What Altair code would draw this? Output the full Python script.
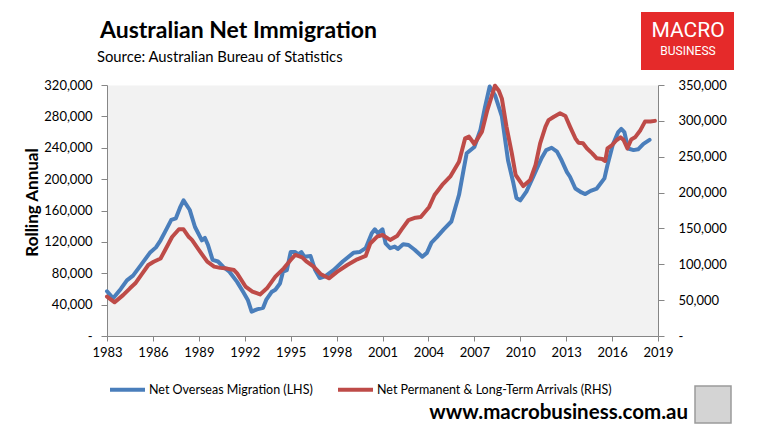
import altair as alt
import pandas as pd

# ---------------- data ----------------
nom_years = [1983.0, 1983.4, 1983.9, 1984.3, 1984.7, 1985.2, 1985.8, 1986.2, 1986.5, 1986.8,
             1987.2, 1987.5, 1987.8, 1988.0, 1988.4, 1988.75, 1989.2, 1989.4, 1989.6, 1989.9,
             1990.25, 1990.6, 1991.0, 1991.5, 1991.9, 1992.2, 1992.45, 1992.8, 1993.2, 1993.4,
             1993.75, 1994.0, 1994.3, 1994.5, 1994.75, 1995.0, 1995.3, 1995.5, 1995.7, 1995.9,
             1996.3, 1996.6, 1996.9, 1997.25, 1997.8, 1998.4, 1999.1, 1999.5, 1999.9, 2000.3,
             2000.5, 2000.7, 2001.0, 2001.2, 2001.5, 2001.8, 2002.0, 2002.35, 2002.7, 2003.1,
             2003.6, 2003.9, 2004.2, 2004.55, 2005.0, 2005.5, 2006.0, 2006.3, 2006.5, 2007.0,
             2007.4, 2007.7, 2008.0, 2008.35, 2008.8, 2009.2, 2009.55, 2009.75, 2010.0, 2010.4,
             2010.85, 2011.4, 2011.7, 2012.05, 2012.4, 2012.7, 2013.05, 2013.25, 2013.6, 2014.0,
             2014.25, 2014.6, 2015.0, 2015.5, 2015.7, 2016.05, 2016.4, 2016.6, 2016.8, 2017.05,
             2017.4, 2017.7, 2018.05, 2018.45]
nom_values = [57, 48, 60, 71, 77, 90, 106, 113, 122, 133,
              148, 150, 165, 173, 161, 139, 122, 125, 116, 97,
              95, 88, 82, 69, 56, 46, 31, 34, 36, 46,
              56, 59, 67, 82, 84, 107, 107, 104, 107, 101,
              102, 84, 74, 76, 84, 95, 106, 107, 112, 131,
              136, 131, 136, 118, 112, 114, 111, 117, 116, 110,
              101, 106, 119, 126, 136, 146, 180, 212, 233, 241,
              263, 292, 318, 307, 280, 224, 195, 176, 173, 184,
              203, 227, 237, 240, 235, 224, 209, 203, 188, 183,
              181, 185, 188, 201, 218, 244, 260, 264, 260, 239,
              237, 238, 245, 250]  # thousands

npl_years = [1983.0, 1983.5, 1984.05, 1984.5, 1984.85, 1985.3, 1985.7, 1986.05, 1986.5, 1986.8,
             1987.25, 1987.7, 1988.0, 1988.35, 1988.55, 1989.0, 1989.55, 1990.0, 1990.4, 1990.85,
             1991.3, 1991.5, 1992.05, 1992.5, 1993.0, 1993.45, 1994.0, 1994.55, 1995.0, 1995.3,
             1995.75, 1996.05, 1996.5, 1996.95, 1997.5, 1998.05, 1998.7, 1999.35, 1999.9, 2000.2,
             2000.65, 2001.0, 2001.5, 2001.95, 2002.3, 2002.7, 2003.15, 2003.5, 2004.05, 2004.4,
             2004.9, 2005.45, 2006.0, 2006.4, 2006.65, 2007.0, 2007.5, 2007.85, 2008.35, 2008.6,
             2008.8, 2009.1, 2009.45, 2009.7, 2010.2, 2010.65, 2011.0, 2011.3, 2011.65, 2011.85,
             2012.2, 2012.6, 2012.95, 2013.25, 2013.6, 2013.8, 2014.1, 2014.35, 2014.7, 2015.0,
             2015.35, 2015.55, 2015.7, 2016.0, 2016.3, 2016.55, 2016.75, 2017.0, 2017.25, 2017.5,
             2017.85, 2018.15, 2018.5, 2018.8]
npl_values = [55, 47, 57, 66.5, 73.5, 87, 99, 103.6, 108, 120,
              138, 148.8, 148.8, 138, 134, 120, 103.6, 96.7, 95, 94,
              92, 87.4, 69, 62, 58, 66.5, 82.7, 94.4, 106, 113,
              109.7, 103.6, 96.7, 86.5, 80.4, 89.7, 99, 107, 111.6, 129,
              138.5, 140.8, 134, 139.4, 150, 161.7, 165, 166, 180, 196.6,
              210.6, 223, 243, 275.7, 278, 267.7, 285, 315, 349, 342,
              331, 292, 254.7, 224.5, 209, 217.5, 238.4, 268.7, 292, 301,
              305.8, 310.5, 306.8, 292, 275.7, 269.6, 268.7, 261.7, 254.7, 247.8,
              246.8, 244, 261.7, 266.3, 273.3, 277, 273.3, 261.7, 274, 277,
              287, 299, 299, 300]  # thousands

series_names = ["Net Overseas Migration (LHS)", "Net Permanent & Long-Term Arrivals (RHS)"]
series_colors = ["#4A7EBB", "#BE4B48"]
x_ticks = [1983, 1986, 1989, 1992, 1995, 1998, 2001, 2004, 2007, 2010, 2013, 2016, 2019]
left_ticks = [0, 40000, 80000, 120000, 160000, 200000, 240000, 280000, 320000]
right_ticks = [0, 50000, 100000, 150000, 200000, 250000, 300000, 350000]

title_text = "Australian Net Immigration"
subtitle_text = "Source: Australian Bureau of Statistics"
y_title = "Rolling Annual"
footer_text = "www.macrobusiness.com.au"
logo_top = "MACRO"
logo_bottom = "BUSINESS"

df = pd.DataFrame({
    "year": nom_years + npl_years,
    "value": [v * 1000 for v in nom_values] + [v * 1000 for v in npl_values],
    "series": [series_names[0]] * len(nom_years) + [series_names[1]] * len(npl_years),
})
deco = pd.DataFrame({"k": [0]})

FONT = "Lato"
AX = "#868686"
label_expr = "datum.value == 0 ? '-' : format(datum.value, ',')"

color = alt.Color(
    "series:N",
    scale=alt.Scale(domain=series_names, range=series_colors),
    legend=alt.Legend(
        title=None, orient="none", legendX=1, legendY=285, direction="horizontal",
        symbolType="stroke", symbolSize=1225, symbolStrokeWidth=4,
        labelFont=FONT, labelFontSize=12.5, labelColor="#000", labelOffset=2,
        columnPadding=17, labelLimit=400,
    ),
)

x = alt.X(
    "year:Q",
    scale=alt.Scale(domain=[1983, 2019], nice=False, zero=False),
    axis=alt.Axis(values=x_ticks, format="d", title=None, grid=False, tickSize=5,
                  labelPadding=5, labelFlush=False),
)

base = alt.Chart(df)

blue = base.transform_filter(alt.datum.series == series_names[0]).mark_line(
    strokeWidth=4, strokeJoin="round", strokeCap="round"
).encode(
    x=x,
    y=alt.Y("value:Q", scale=alt.Scale(domain=[0, 320000], nice=False),
            axis=alt.Axis(orient="left", values=left_ticks, labelExpr=label_expr, grid=False,
                          tickSize=6, labelPadding=9, title=y_title, titleFont=FONT,
                          titleFontSize=17, titleFontWeight="bold", titleColor="#000",
                          titleAngle=270, titleX=-70, titleY=117, titleBaseline="alphabetic",
                          titleAlign="center")),
    color=color,
)

red = base.transform_filter(alt.datum.series == series_names[1]).mark_line(
    strokeWidth=4, strokeJoin="round", strokeCap="round"
).encode(
    x=x,
    y=alt.Y("value:Q", scale=alt.Scale(domain=[0, 350000], nice=False),
            axis=alt.Axis(orient="right", values=right_ticks, labelExpr=label_expr, grid=False,
                          tickSize=6, labelPadding=14, title=None)),
    color=color,
)

title_mark = alt.Chart(deco).mark_text(text=title_text, font=FONT, fontSize=23, fontWeight="bold",
                                       color="#000", align="left", baseline="alphabetic").encode(
    x=alt.value(-7), y=alt.value(-47))
subtitle_mark = alt.Chart(deco).mark_text(text=subtitle_text, font=FONT, fontSize=14.8,
                                          color="#000", align="left", baseline="alphabetic").encode(
    x=alt.value(-10), y=alt.value(-23))
logo_box = alt.Chart(deco).mark_rect(color="#E52A2A").encode(
    x=alt.value(534), x2=alt.value(627), y=alt.value(-73), y2=alt.value(-15)
)
logo_t1 = alt.Chart(deco).mark_text(text=logo_top, font="Roboto", fontSize=21, color="white",
                                    align="center", baseline="middle").encode(
    x=alt.value(581), y=alt.value(-54))
logo_t2 = alt.Chart(deco).mark_text(text=logo_bottom, font="Roboto", fontSize=12, color="white",
                                    align="center", baseline="middle").encode(
    x=alt.value(581), y=alt.value(-34))
footer = alt.Chart(deco).mark_text(text=footer_text, font=FONT, fontSize=20.5, fontWeight="bold",
                                   color="#000", align="right", baseline="alphabetic").encode(
    x=alt.value(581), y=alt.value(334))
wolf = alt.Chart(deco).mark_rect(fill="#D4D4D4", stroke="#9A9A9A", strokeWidth=1.5).encode(
    x=alt.value(588), x2=alt.value(624), y=alt.value(301), y2=alt.value(338)
)

chart = alt.layer(blue, red, title_mark, subtitle_mark, logo_box, logo_t1, logo_t2,
                  footer, wolf).resolve_scale(
    y="independent"
).properties(
    width=551, height=251,
    autosize=alt.AutoSizeParams(type="none"),
    padding={"left": 99, "top": 77, "right": 93, "bottom": 99},
    background="white",
).configure_view(
    fill="#F2F2F2", stroke="transparent"
).configure_axis(
    domainColor=AX, tickColor=AX, labelColor="#000", labelFont=FONT, labelFontSize=13,
    domainWidth=1, tickWidth=1,
)

chart.save("out.html", embed_options={"renderer": "svg", "actions": False})
